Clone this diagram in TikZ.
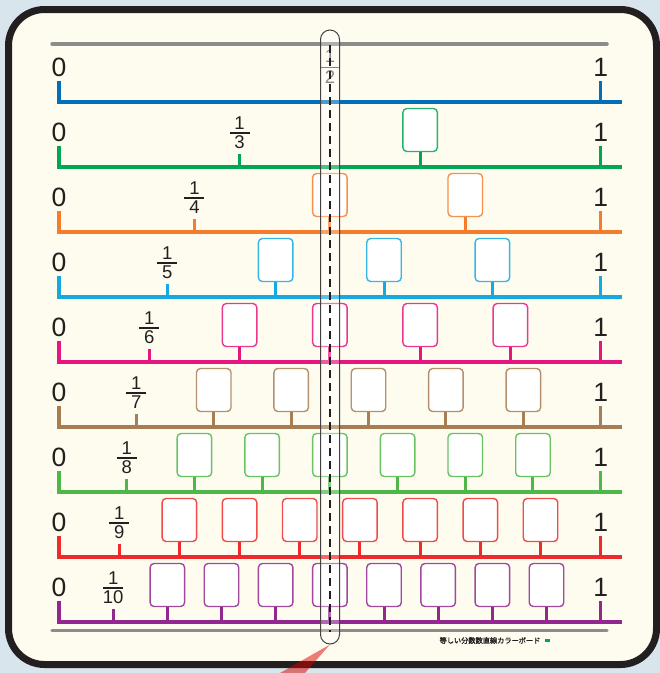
\documentclass[tikz,border=0pt]{standalone}
\usepackage{fontspec}
\setmainfont{Liberation Sans}
\newfontfamily\cjkfont[FakeBold=1.5]{Noto Sans CJK JP}
\definecolor{bgcol}{HTML}{D8E5EC}
\definecolor{boardfill}{HTML}{FEFCEE}
\definecolor{boardedge}{HTML}{231F20}
\definecolor{grayline}{HTML}{8C8C8C}
\definecolor{cblue}{HTML}{006EB9}
\definecolor{cgreen}{HTML}{00A651}
\definecolor{corange}{HTML}{F47C2A}
\definecolor{ccyan}{HTML}{14A9E1}
\definecolor{cmag}{HTML}{E6157F}
\definecolor{cbrown}{HTML}{A87D54}
\definecolor{clgreen}{HTML}{4DB848}
\definecolor{cred}{HTML}{EE2A2A}
\definecolor{cpurple}{HTML}{91278F}
\definecolor{ink}{HTML}{231F20}
\begin{document}
\begin{tikzpicture}[x=1pt,y=-1pt,
  board/.style={line width=7pt,draw=boardedge,fill=boardfill,rounded corners=36pt},
  edgeline/.style={line width=3.5pt,draw=grayline,line cap=round},
  numline/.style={line width=3.6pt,line join=miter},
  tickmark/.style={line width=3pt},
  bignum/.style={inner sep=0pt,text=ink,font=\fontsize{26.5}{26.5}\selectfont},
  smallnum/.style={inner sep=0pt,text=ink,font=\fontsize{18.5}{18.5}\selectfont},
  fracbar/.style={line width=1.4pt,draw=ink},
  answerbox/.style={line width=1.4pt,fill=white,rounded corners=4pt,
    minimum width=34.5pt,minimum height=43pt,inner sep=0pt},
  slider/.style={draw=ink!85,line width=1pt,fill=white,fill opacity=0.3,
    rounded corners=9.5pt,minimum width=19pt,minimum height=614pt,inner sep=0pt},
  halfline/.style={draw=ink,line width=2.4pt,dash pattern=on 8pt off 5pt},
  pointer/.style={fill=red!85!black,fill opacity=0.5}
]
\useasboundingbox (0,0) rectangle (660,673);
\fill[bgcol] (0,0) rectangle (660,673);
\draw[board] (8.5,9.5) rectangle (656.5,664.5);
% top and bottom gray lines
\coordinate (gtl) at (52,44);
\coordinate (gtr) at (607,44);
\coordinate (gbl) at (52,630.7);
\coordinate (gbr) at (607,630.7);
\draw[edgeline] (gtl) -- (gtr);
\draw[edgeline] (gbl) -- (gbr);
% number lines
\foreach \n/\col [count=\i from 0] in {2/cblue,3/cgreen,4/corange,5/ccyan,6/cmag,7/cbrown,8/clgreen,9/cred,10/cpurple}{
  \pgfmathsetmacro{\ly}{102+65*\i}
  \coordinate (zt\i) at (59,\ly-21);
  \coordinate (e\i) at (622,\ly);
  \draw[numline,draw=\col] (zt\i) |- (e\i);
  \node[bignum] (zero\i) at (59,\ly-34.5) {0};
  \coordinate (ot\i) at (600.7,\ly-21);
  \coordinate (ob\i) at (600.7,\ly);
  \draw[tickmark,draw=\col] (ot\i) -- (ob\i);
  \node[bignum] (one\i) at (600.7,\ly-35) {1};
  \ifnum\n>2
    \pgfmathsetmacro{\fx}{59+541.7/\n}
    \coordinate (ft\i) at (\fx,\ly-13);
    \coordinate (fb\i) at (\fx,\ly);
    \draw[tickmark,draw=\col] (ft\i) -- (fb\i);
    \node[smallnum] (fn\i) at (\fx,\ly-43.5) {1};
    \draw[fracbar] (\fx-10,\ly-34) -- (\fx+10,\ly-34);
    \node[smallnum] (fd\i) at (\fx,\ly-25) {\n};
    \pgfmathtruncatemacro{\nm}{\n-1}
    \foreach \k in {2,...,\nm}{
      \pgfmathsetmacro{\bx}{59+541.7*\k/\n}
      \node[answerbox,draw=\col!85!white] (b\i-\k) at (\bx,\ly-37) {};
      \coordinate (bt\i-\k) at (\bx,\ly);
      \draw[tickmark,draw=\col] (b\i-\k.south) -- (bt\i-\k);
    }
  \fi
}
% one half label
\node[smallnum,text=ink!75] (hn) at (330,56) {1};
\draw[fracbar,draw=ink!80,line width=1pt] (320.5,67.7) -- (339.5,67.7);
\node[smallnum,text=ink!75] (hd) at (330,77) {2};
% slider
\node[slider] (slider) at (330,337) {};
\coordinate (dt) at (330,45);
\coordinate (db) at (330,632);
\draw[halfline] (dt) -- (db);
% pointer
\coordinate (pl) at (280,673);
\coordinate (pr) at (305,673);
\fill[pointer] (slider.south) -- (pr) -- (pl) -- cycle;
% title
\node[inner sep=0pt,text=ink,font=\cjkfont\fontsize{7.2}{8}\selectfont] (title) at (490,640.5) {等しい分数数直線カラーボード};
\fill[cgreen] (545,639) rectangle (549.5,642);
\end{tikzpicture}
\end{document}
